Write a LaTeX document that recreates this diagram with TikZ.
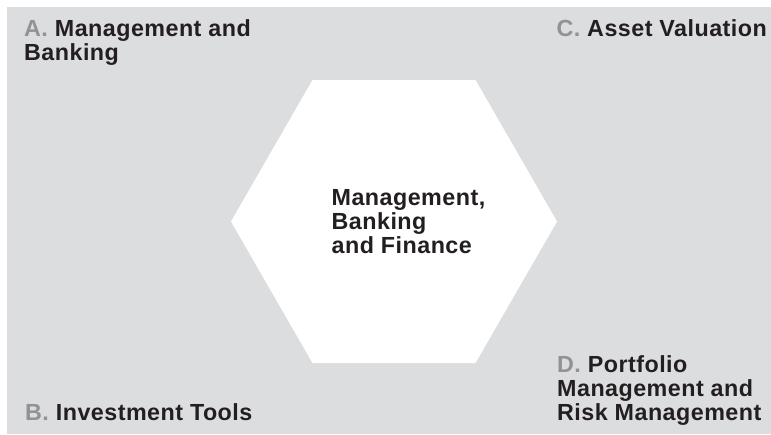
\documentclass[tikz,border=0pt]{standalone}
\usepackage{fontspec}
\setmainfont{Liberation Sans}[LetterSpace=2]
\definecolor{bgc}{RGB}{220,221,223}
\definecolor{ink}{RGB}{35,31,32}
\definecolor{lettergray}{RGB}{146,146,149}
\newcommand{\gr}[1]{\textcolor{lettergray}{#1}}
\tikzset{
  lbl/.style={font={\fontsize{23.3}{24}\selectfont\bfseries}, text=ink, align=left, inner sep=0pt},
}
\begin{document}
\begin{tikzpicture}[x=1pt,y=-1pt]
\useasboundingbox (0,0) rectangle (771,434);
\fill[bgc] (7,7) rectangle (771,434);
\coordinate (h1) at (231,221.5);
\coordinate (h2) at (312.5,80);
\coordinate (h3) at (475.5,80);
\coordinate (h4) at (557,221.5);
\coordinate (h5) at (475.5,363);
\coordinate (h6) at (312.5,363);
\fill[white] (h1) -- (h2) -- (h3) -- (h4) -- (h5) -- (h6) -- cycle;
% base anchor = baseline of the last line
\node[lbl, anchor=base west] (m) at (331.5,253) {Management,\\Banking\\and Finance};
\node[lbl, anchor=base west] (a) at (24,60) {\gr{A.} Management and\\Banking};
\node[lbl, anchor=base east] (c) at (767,36) {\gr{C.} Asset Valuation};
\node[lbl, anchor=base west] (b) at (25,420) {\gr{B.} Investment Tools};
\node[lbl, anchor=base west] (d) at (557,420) {\gr{D.} Portfolio\\Management and\\Risk Management};
\end{tikzpicture}
\end{document}
